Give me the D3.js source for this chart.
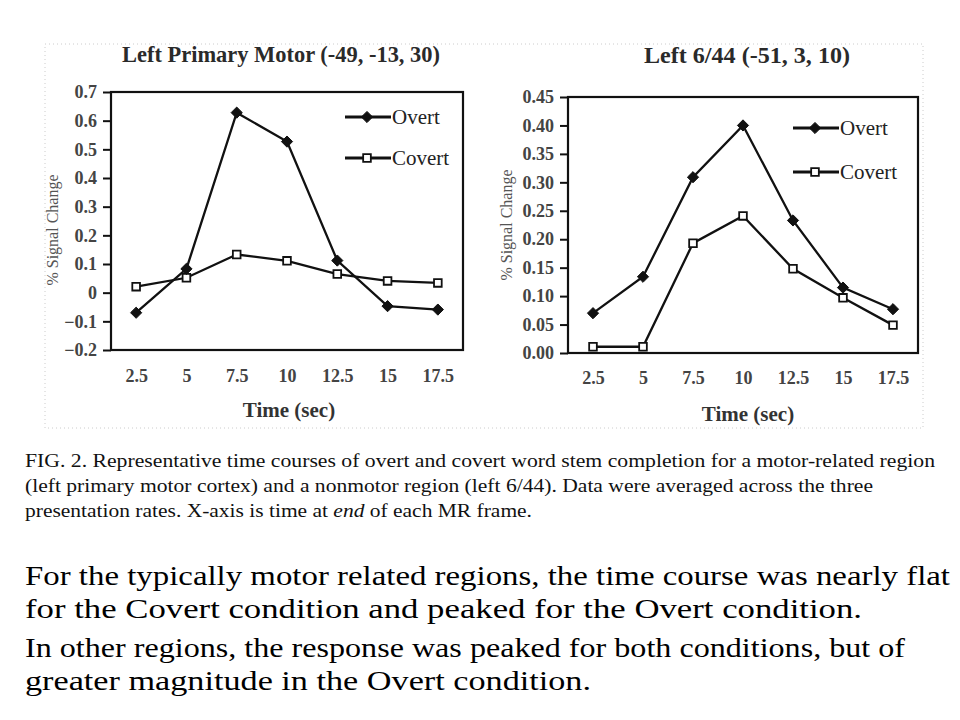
<!DOCTYPE html>
<html>
<head>
<meta charset="utf-8">
<script src="https://cdn.jsdelivr.net/npm/d3@7/dist/d3.min.js"></script>
<style>
  body { margin: 0; background: #fff; }
  svg { display: block; }
  text { font-family: "Liberation Serif", "Times New Roman", serif; }
</style>
</head>
<body>
<div id="chart"></div>
<script>
// Data
const times = ["2.5", "5", "7.5", "10", "12.5", "15", "17.5"];

const motorOvert = [-0.07, 0.083, 0.628, 0.527, 0.112, -0.047, -0.059];
const motorCovert = [0.021, 0.052, 0.133, 0.111, 0.065, 0.041, 0.034];
const motorTicks = [0.7, 0.6, 0.5, 0.4, 0.3, 0.2, 0.1, 0, -0.1, -0.2];

const areaOvert = [0.07, 0.134, 0.309, 0.40, 0.233, 0.115, 0.077];
const areaCovert = [0.011, 0.011, 0.193, 0.241, 0.148, 0.097, 0.049];
const areaTicks = [0.45, 0.40, 0.35, 0.30, 0.25, 0.20, 0.15, 0.10, 0.05, 0.00];

const captionLines = [
    [{ t: "FIG. 2. Representative time courses of overt and covert word stem completion for a motor-related region" }],
    [{ t: "(left primary motor cortex) and a nonmotor region (left 6/44).  Data were averaged across the three" }],
    [{ t: "presentation rates. X-axis is time at " }, { t: "end", i: true }, { t: " of each MR frame." }]
];
const bodyLines = [
    "For the typically motor related regions, the time course was nearly flat",
    "for the Covert condition and peaked for the Overt condition.",
    "In other regions, the response was peaked for both conditions, but of",
    "greater magnitude in the Overt condition."
];

const W = 960, H = 720;
const svg = d3.select("#chart").append("svg")
    .attr("width", W)
    .attr("height", H);

// dotted frame around the figure
svg.append("rect")
    .attr("x", 45).attr("y", 44)
    .attr("width", 878).attr("height", 384)
    .attr("fill", "none")
    .attr("stroke", "#ccc")
    .attr("stroke-width", 1)
    .attr("stroke-dasharray", "1,3");

function drawPanel(p) {
    let g = svg.append("g");

    let x = d3.scalePoint()
        .domain(times)
        .range([p.left, p.right])
        .padding(0.5);

    let y = d3.scaleLinear()
        .domain(p.domain)
        .range([p.bottom, p.top]);

    // title
    g.append("text")
        .attr("x", p.titleX).attr("y", p.titleY)
        .attr("text-anchor", "middle")
        .attr("font-size", 23)
        .attr("fill", "#2a2a2a")
        .attr("textLength", p.titleW)
        .attr("lengthAdjust", "spacingAndGlyphs")
        .style("font-weight", 600)
        .text(p.title);

    // y axis
    let yAxis = g.append("g")
        .attr("transform", `translate(${p.left},0)`)
        .call(d3.axisLeft(y).tickValues(p.ticks).tickSize(8).tickSizeOuter(0).tickPadding(6).tickFormat(p.fmt));
    yAxis.select(".domain").remove();
    yAxis.selectAll("line").attr("stroke", "#111").attr("stroke-width", 2);
    yAxis.selectAll("text")
        .attr("font-size", 18).attr("font-weight", "bold")
        .attr("fill", "#444")
        .style("font-family", "'Liberation Serif', serif");

    // x tick labels
    let xAxis = g.append("g")
        .attr("transform", `translate(0,${p.xLabelY})`)
        .call(d3.axisBottom(x).tickSize(0).tickPadding(0));
    xAxis.select(".domain").remove();
    xAxis.selectAll("text")
        .attr("dy", 0)
        .attr("font-size", 18).attr("font-weight", "bold")
        .attr("fill", "#444")
        .style("font-family", "'Liberation Serif', serif");

    // axis titles
    g.append("text")
        .attr("x", p.xTitleX).attr("y", p.xTitleY)
        .attr("text-anchor", "middle")
        .attr("font-size", 21).attr("font-weight", "bold")
        .attr("fill", "#333")
        .text("Time (sec)");

    g.append("text")
        .attr("transform", `translate(${p.yTitleX},${p.yTitleY}) rotate(-90)`)
        .attr("text-anchor", "middle")
        .attr("font-size", 16)
        .attr("fill", "#555")
        .text("% Signal Change");

    // plot frame
    g.append("rect")
        .attr("x", p.left).attr("y", p.top)
        .attr("width", p.right - p.left).attr("height", p.bottom - p.top)
        .attr("fill", "none")
        .attr("stroke", "#111")
        .attr("stroke-width", 2.2);

    let line = d3.line()
        .x((d, i) => x(times[i]))
        .y(d => y(d));

    let diamond = d3.symbol().type(d3.symbolDiamond2).size(80);
    let square = d3.symbol().type(d3.symbolSquare2).size(75);

    // covert series
    g.append("path")
        .datum(p.covert)
        .attr("d", line)
        .attr("fill", "none")
        .attr("stroke", "#111")
        .attr("stroke-width", 2.3);
    g.selectAll(".sq")
        .data(p.covert)
        .enter().append("path")
        .attr("class", "sq")
        .attr("transform", (d, i) => `translate(${x(times[i])},${y(d)})`)
        .attr("d", square)
        .attr("fill", "#fff")
        .attr("stroke", "#111")
        .attr("stroke-width", 1.8);

    // overt series
    g.append("path")
        .datum(p.overt)
        .attr("d", line)
        .attr("fill", "none")
        .attr("stroke", "#111")
        .attr("stroke-width", 2.3);
    g.selectAll(".dm")
        .data(p.overt)
        .enter().append("path")
        .attr("class", "dm")
        .attr("transform", (d, i) => `translate(${x(times[i])},${y(d)})`)
        .attr("d", diamond)
        .attr("fill", "#111")
        .attr("stroke", "#111")
        .attr("stroke-width", 1);

    // legend
    let leg = [
        { name: "Overt", y: p.legY[0], sym: diamond, fill: "#111", sw: 1 },
        { name: "Covert", y: p.legY[1], sym: square, fill: "#fff", sw: 1.8 }
    ];
    leg.forEach(l => {
        g.append("line")
            .attr("x1", p.legX).attr("x2", p.legX + 46)
            .attr("y1", l.y).attr("y2", l.y)
            .attr("stroke", "#111").attr("stroke-width", 2.8);
        g.append("path")
            .attr("transform", `translate(${p.legX + 22},${l.y})`)
            .attr("d", l.sym)
            .attr("fill", l.fill)
            .attr("stroke", "#111")
            .attr("stroke-width", l.sw);
        g.append("text")
            .attr("x", p.legX + 47).attr("y", l.y + 7)
            .attr("font-size", 21)
            .attr("fill", "#222")
            .text(l.name);
    });
}

drawPanel({
    title: "Left Primary Motor (-49, -13, 30)",
    titleX: 281, titleY: 62, titleW: 318,
    left: 111, right: 463, top: 92, bottom: 350,
    domain: [-0.2, 0.7],
    ticks: motorTicks,
    fmt: d3.format(""),
    overt: motorOvert, covert: motorCovert,
    xLabelY: 382, xTitleX: 289, xTitleY: 417,
    yTitleX: 58, yTitleY: 230,
    legX: 345, legY: [117, 158]
});

drawPanel({
    title: "Left 6/44  (-51, 3, 10)",
    titleX: 747, titleY: 63, titleW: 206,
    left: 568, right: 918, top: 97, bottom: 353,
    domain: [0, 0.45],
    ticks: areaTicks,
    fmt: d3.format(".2f"),
    overt: areaOvert, covert: areaCovert,
    xLabelY: 384, xTitleX: 748, xTitleY: 421,
    yTitleX: 512, yTitleY: 225,
    legX: 793, legY: [128, 172]
});

// caption
const capY = [467, 492, 517];
const capW = [910, 848, 507];
captionLines.forEach((parts, i) => {
    let t = svg.append("text")
        .attr("x", 25).attr("y", capY[i])
        .attr("font-size", 18.5)
        .attr("fill", "#111")
        .attr("textLength", capW[i])
        .attr("lengthAdjust", "spacingAndGlyphs");
    parts.forEach(s => {
        t.append("tspan")
            .attr("font-style", s.i ? "italic" : "normal")
            .text(s.t);
    });
});

// body text
const bodyY = [585, 618, 657, 690];
const bodyW = [925, 837, 880, 566];
bodyLines.forEach((s, i) => {
    svg.append("text")
        .attr("x", 25).attr("y", bodyY[i])
        .attr("font-size", 28)
        .attr("fill", "#000")
        .attr("textLength", bodyW[i])
        .attr("lengthAdjust", "spacingAndGlyphs")
        .text(s);
});
</script>
</body>
</html>
